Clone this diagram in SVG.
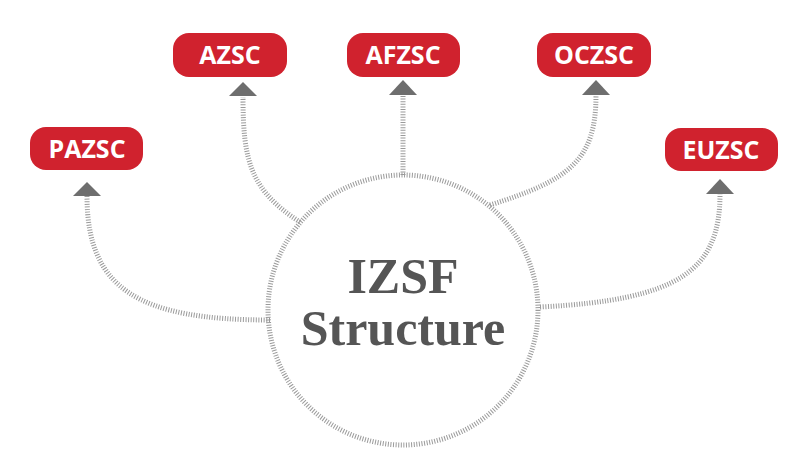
<svg xmlns="http://www.w3.org/2000/svg" width="800" height="459" viewBox="0 0 800 459">
<style>
.box{fill:#d0222e}
.lbl{font-family:"Open Sans","Liberation Sans",sans-serif;font-weight:bold;font-size:25px;fill:#fff;text-anchor:middle}
.c{fill:none;stroke:#9a9a9a;stroke-width:5;stroke-dasharray:1 1.6}
.ah{fill:#6e6e6e}
.t{font-family:"Liberation Serif",serif;font-weight:bold;font-size:50px;fill:#555;text-anchor:middle}
</style>
<rect width="800" height="459" fill="#fff"/>
<g id="connectors">
<path class="c" d="M270,320 C140,320 87,290 87,196"/>
<path class="c" d="M300,222 C250,190 243,160 243,97"/>
<path class="c" d="M403,175 L403,95"/>
<path class="c" d="M490,205 C570,180 596,160 596,95"/>
<path class="c" d="M540,307 C680,300 720,270 720,194"/>
<polygon class="ah" points="87,182 73,196 101,196"/>
<polygon class="ah" points="243,82 229,96 257,96"/>
<polygon class="ah" points="403,80 389,95 417,95"/>
<polygon class="ah" points="596,80 582,95 610,95"/>
<polygon class="ah" points="720,179 706,194 734,194"/>
</g>
<g id="center">
<circle class="c" cx="403" cy="310" r="135"/>
<text class="t" x="403" y="293">IZSF</text>
<text class="t" x="403" y="345">Structure</text>
</g>
<g id="PAZSC"><rect class="box" x="30" y="127" width="113" height="43" rx="16"/><text class="lbl" x="87" y="158">PAZSC</text></g>
<g id="AZSC"><rect class="box" x="173" y="33" width="114" height="44" rx="16"/><text class="lbl" x="230" y="64">AZSC</text></g>
<g id="AFZSC"><rect class="box" x="347" y="33" width="113" height="44" rx="16"/><text class="lbl" x="403" y="64">AFZSC</text></g>
<g id="OCZSC"><rect class="box" x="537" y="33" width="114" height="44" rx="16"/><text class="lbl" x="594" y="64">OCZSC</text></g>
<g id="EUZSC"><rect class="box" x="665" y="128" width="113" height="43" rx="16"/><text class="lbl" x="721" y="159">EUZSC</text></g>
</svg>
